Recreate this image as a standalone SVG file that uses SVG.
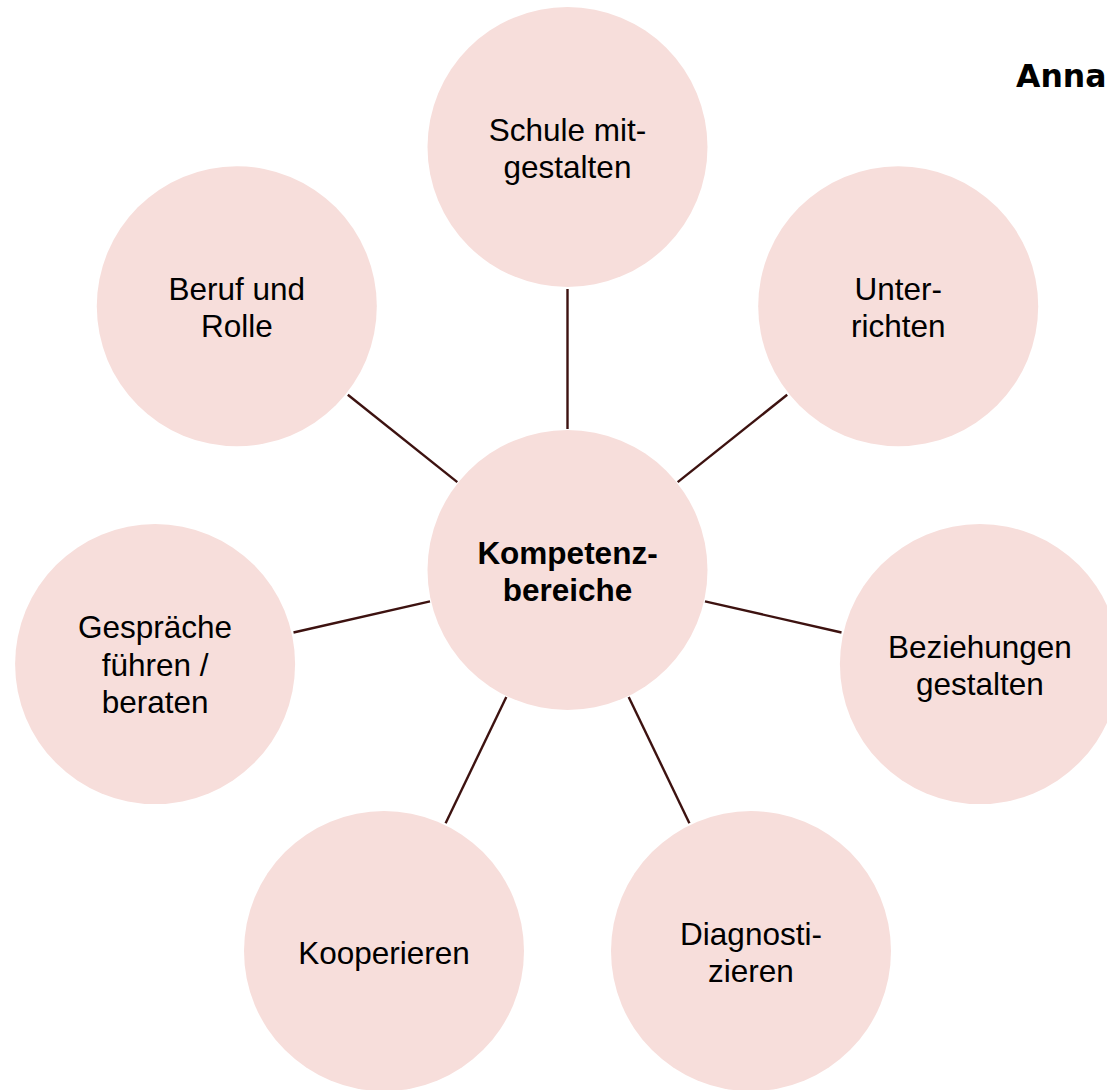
<svg xmlns="http://www.w3.org/2000/svg" width="1107" height="1090" viewBox="0 0 1107 1090">
  <style>
    .bubble { fill: #f7dedb; }
    .label { font-family: "Liberation Sans", Arial, sans-serif; font-size: 31.5px; fill: #000000; text-anchor: middle; }
    .hub { font-weight: bold; }
    .link { stroke: #3d1210; stroke-width: 2.4; stroke-linecap: butt; fill: none; }
    .title { font-family: "DejaVu Sans", Verdana, sans-serif; font-size: 31.5px; font-weight: bold; fill: #000000; }
  </style>
  <rect x="0" y="0" width="1107" height="1090" fill="#ffffff"/>

  <!-- spokes between the hub and the seven areas -->
  <g id="connectors">
    <line class="link" x1="567.5" y1="429" x2="567.5" y2="289"/>
    <line class="link" x1="677.7" y1="482.1" x2="787.2" y2="394.8"/>
    <line class="link" x1="705.0" y1="601.4" x2="841.5" y2="632.5"/>
    <line class="link" x1="628.7" y1="697.0" x2="689.4" y2="823.2"/>
    <line class="link" x1="506.3" y1="697.0" x2="445.6" y2="823.2"/>
    <line class="link" x1="430.0" y1="601.4" x2="293.5" y2="632.5"/>
    <line class="link" x1="457.3" y1="482.1" x2="347.8" y2="394.8"/>
  </g>

  <g id="hub">
    <circle class="bubble" cx="567.5" cy="570" r="140"/>
    <text class="label hub" x="567.5" y="564">Kompetenz-</text>
    <text class="label hub" x="567.5" y="601">bereiche</text>
  </g>

  <g id="schule">
    <circle class="bubble" cx="567.5" cy="147" r="140"/>
    <text class="label" x="567.5" y="141">Schule mit-</text>
    <text class="label" x="567.5" y="178">gestalten</text>
  </g>

  <g id="unterrichten">
    <circle class="bubble" cx="898.2" cy="306.3" r="140"/>
    <text class="label" x="898.2" y="300">Unter-</text>
    <text class="label" x="898.2" y="337">richten</text>
  </g>

  <g id="beziehungen">
    <circle class="bubble" cx="979.9" cy="664.1" r="140"/>
    <text class="label" x="979.9" y="658">Beziehungen</text>
    <text class="label" x="979.9" y="695">gestalten</text>
  </g>

  <g id="diagnostizieren">
    <circle class="bubble" cx="751.0" cy="951.1" r="140"/>
    <text class="label" x="751.0" y="945">Diagnosti-</text>
    <text class="label" x="751.0" y="982">zieren</text>
  </g>

  <g id="kooperieren">
    <circle class="bubble" cx="384.0" cy="951.1" r="140"/>
    <text class="label" x="384.0" y="964">Kooperieren</text>
  </g>

  <g id="gespraeche">
    <circle class="bubble" cx="155.1" cy="664.1" r="140"/>
    <text class="label" x="155.1" y="638">Gespräche</text>
    <text class="label" x="155.1" y="675.5">führen /</text>
    <text class="label" x="155.1" y="713">beraten</text>
  </g>

  <g id="beruf">
    <circle class="bubble" cx="236.8" cy="306.3" r="140"/>
    <text class="label" x="236.8" y="300">Beruf und</text>
    <text class="label" x="236.8" y="337">Rolle</text>
  </g>

  <text class="title" x="1016" y="87">Anna</text>
</svg>
